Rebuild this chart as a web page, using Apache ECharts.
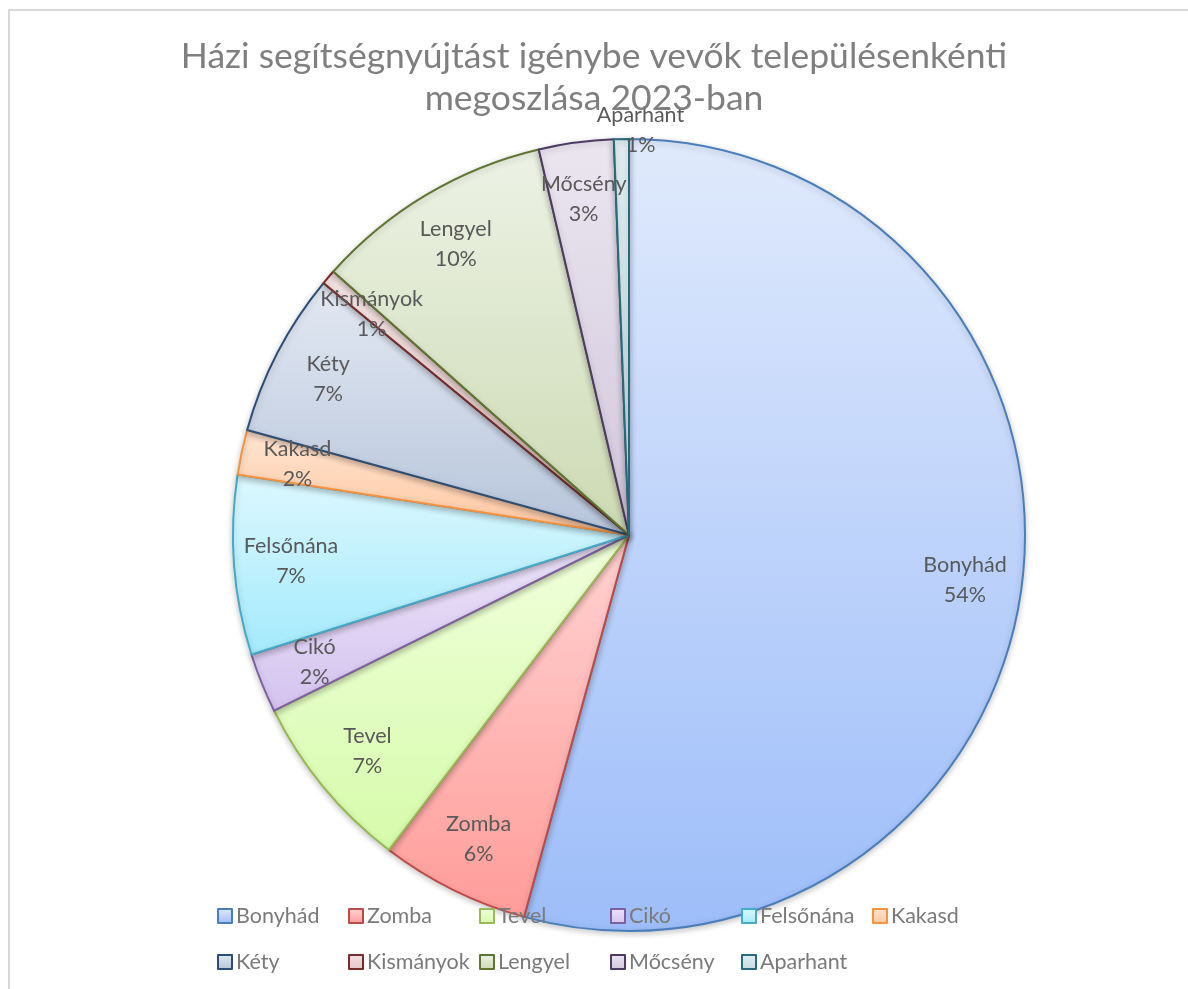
<!DOCTYPE html>
<html>
	<head>
		<meta charset="utf-8">
		<script src="https://cdn.jsdelivr.net/npm/echarts@6/dist/echarts.min.js"></script>
		<title>Házi segítségnyújtás</title>
	</head>
	<body>
		<style>
			html,
			body {
				width: 100%;
				height: 100%;
				margin: 0;
				overflow: hidden;
				background: #fff;
			}
			#main {
				position: absolute;
				left: 0;
				top: 0;
				width: 1188px;
				height: 989px;
			}
			#frame {
				position: absolute;
				left: 8px;
				top: 9px;
				width: 1300px;
				height: 1100px;
				border-left: 2px solid #d9d9d9;
				border-top: 2px solid #d9d9d9;
				pointer-events: none;
			}
		</style>
		<div id="main"></div>
		<div id="frame"></div>
		<script type="text/javascript">
			// települések és igénybe vevők száma
			var telepulesek = ['Bonyhád', 'Zomba', 'Tevel', 'Cikó', 'Felsőnána', 'Kakasd',
				'Kéty', 'Kismányok', 'Lengyel', 'Mőcsény', 'Aparhant'];
			var igenybeVevok = [89, 10, 12, 4, 12, 3, 11, 1, 16, 5, 1];

			// szeletek színei: világos (fent), sötétebb (lent), keret
			var szinFent = ['#e0eafc', '#ffd3d2', '#f1ffdc', '#ece4f8', '#ddf8fe', '#ffe4d0',
				'#e3e9f3', '#f3e2e2', '#edf2e5', '#ebe6f0', '#e1edf0'];
			var szinLent = ['#9dbdf9', '#ff9c99', '#d6fbab', '#d4c3ef', '#a3eafc', '#ffc7a0',
				'#b6c4da', '#e6c5c5', '#ccdab3', '#d1c7dc', '#c2dce3'];
			var keretSzin = ['#4a7ebb', '#be4b48', '#98b954', '#7d60a0', '#46aac5', '#f69240',
				'#2c4d75', '#772c2a', '#5f7530', '#4d3b62', '#276a7c'];

			var betu = 'Lato, "Noto Sans", sans-serif';

			var myChart = echarts.init(document.getElementById('main'));

			var szeletek = [];
			var cimkek = [];
			for (var i = 0; i < telepulesek.length; i++) {
				szeletek.push({
					name: telepulesek[i],
					value: igenybeVevok[i],
					itemStyle: {
						color: new echarts.graphic.LinearGradient(0, 0, 0, 1, [
							{ offset: 0, color: szinFent[i] },
							{ offset: 1, color: szinLent[i] }
						]),
						borderColor: keretSzin[i]
					}
				});
				cimkek.push({ name: telepulesek[i], value: igenybeVevok[i] });
			}

			var option = {
				animation: false,
				title: {
					text: 'Házi segítségnyújtást igénybe vevők településenkénti\nmegoszlása 2023-ban',
					left: 'center',
					top: 36,
					padding: [0, 0, 0, 12],
					textStyle: {
						fontFamily: betu,
						fontSize: 35.5,
						fontWeight: 'normal',
						color: '#7f7f7f',
						lineHeight: 42
					}
				},
				legend: {
					left: 212,
					top: 891,
					width: 820,
					itemWidth: 14,
					itemHeight: 14,
					itemGap: 6,
					icon: 'rect',
					data: telepulesek,
					textStyle: {
						fontFamily: betu,
						fontSize: 21.5,
						color: '#7a7a7a',
						width: 106,
						overflow: 'none',
						lineHeight: 40,
						padding: [0, 0, 0, -1]
					}
				},
				series: [{
					type: 'pie',
					center: [629, 535],
					radius: 396,
					startAngle: 90,
					clockwise: true,
					label: { show: false },
					labelLine: { show: false },
					emphasis: { disabled: true },
					itemStyle: {
						borderWidth: 2,
						shadowBlur: 6,
						shadowOffsetY: 2,
						shadowColor: 'rgba(0,0,0,0.22)'
					},
					data: szeletek
				}, {
					// csak a feliratok helye miatt
					type: 'pie',
					center: [629, 535],
					radius: [280, 392],
					startAngle: 90,
					clockwise: true,
					silent: true,
					itemStyle: { color: 'rgba(0,0,0,0)', borderWidth: 0 },
					label: {
						show: true,
						position: 'inside',
						fontFamily: betu,
						fontSize: 21.5,
						lineHeight: 30,
						color: '#595959',
						formatter: function (p) {
							return p.name + '\n' + Math.round(p.percent) + '%';
						}
					},
					labelLine: { show: false },
					labelLayout: function (params) {
						if (params.dataIndex === 10) {
							return { dx: 18, dy: -66 };
						}
					},
					data: cimkek
				}]
			};

			myChart.setOption(option);

			window.onresize = function () {
				myChart.resize();
			};
		</script>
	</body>
</html>
